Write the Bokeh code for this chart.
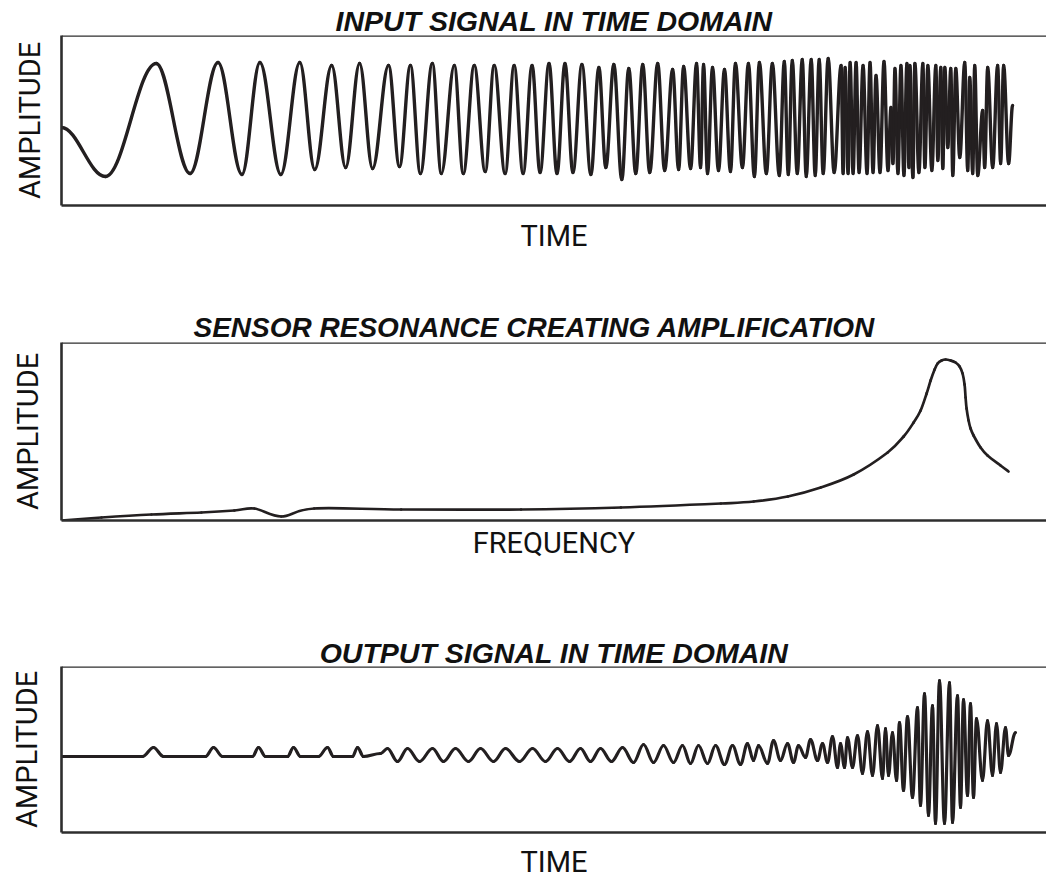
import numpy as np
from bokeh.plotting import figure
from bokeh.models import Range1d, Span, FixedTicker, ColumnDataSource
from bokeh.layouts import column
from bokeh.embed import file_html
from bokeh.resources import INLINE

# ---------------- data ----------------
# Input chirp: time of each extremum and its amplitude
in_t = [0, 44, 95, 129, 157, 181, 199, 220, 239, 254, 271, 285, 299, 312, 328, 339, 350, 360, 372, 381,
        394, 403, 414, 425, 434, 445, 454, 463, 472, 480, 489, 497, 505, 513, 522, 531, 539, 546, 554, 562,
        569, 576, 583, 590, 598, 605, 613, 619, 624, 631, 637, 641, 644, 648, 653, 659, 665, 671, 676, 683,
        689, 695, 700, 707, 713, 720, 725, 729, 733, 738, 743, 747, 752, 756, 760, 764, 769, 775, 782, 784,
        786, 789, 791, 794, 797, 800, 804, 808, 811, 814, 817, 821, 825, 829, 832, 834, 836, 839, 842, 845,
        848, 850, 851, 854, 856, 860, 864, 866, 869, 873, 877, 879, 882, 884, 886, 889, 892, 894, 897, 901,
        906, 909, 911, 914, 916, 919, 924, 926, 929, 934, 939, 942, 945, 950, 954]
in_a = [-7, -56, 57, -53, 58, -54, 58, -54, 58, -49, 55, -47, 57, -48, 55, -46, 55, -53, 57, -53,
        55, -53, 55, -51, 55, -53, 55, -53, 55, -52, 57, -53, 57, -52, 56, -54, 53, -47, 56, -59,
        52, -53, 56, -52, 57, -50, 51, -49, 54, -48, 57, -47, 56, -53, 53, -50, 51, -51, 57, -47,
        57, -56, 58, -53, 57, -55, 59, -54, 60, -53, 61, -56, 61, -55, 61, -53, 62, -52, 55, -53,
        53, -53, 58, -53, 58, -52, 55, -53, 58, -52, 45, -52, 59, -50, 13, -43, 52, -53, 55, -55,
        57, -47, 55, -57, 57, -52, 57, -47, 55, -50, 55, -40, 53, -48, 53, -27, 52, -55, 52, -37,
        58, -50, 43, -53, 55, -55, 10, -47, 53, -47, 55, -43, 55, -43, 15]

# Sensor resonance curve: frequency vs amplitude
res_f = [0, 40, 90, 140, 173, 193, 220, 253, 340, 460, 560, 660, 693, 727, 760, 793, 827, 843, 853, 860,
         866, 870, 874, 877, 881, 885, 890, 895, 899, 902, 904, 905, 906, 908, 910, 913, 920, 927, 940, 948]
res_a = [0, 3, 6, 8, 10, 12, 4, 12, 11, 11, 13, 17, 19, 24, 33, 46, 68, 84, 98, 110,
         127, 140, 151, 157, 160, 161, 160, 158, 154, 147, 136, 123, 112, 100, 92, 85, 73, 65, 55, 49]

# Output signal: time of each extremum and its amplitude
out_t = [0, 81, 92, 102, 144, 152, 161, 191, 197, 204, 226, 232, 239, 257, 266, 272, 291, 296, 302, 319,
         326, 336, 346, 358, 371, 382, 394, 407, 419, 432, 444, 458, 471, 484, 496, 508, 519, 529, 539, 550,
         561, 572, 582, 592, 602, 612, 621, 629, 637, 646, 654, 663, 671, 679, 686, 692, 697, 706, 712, 719,
         726, 732, 737, 744, 749, 756, 761, 766, 771, 776, 779, 783, 786, 791, 796, 801, 806, 811, 816, 821,
         824, 827, 831, 835, 838, 842, 846, 851, 856, 859, 863, 867, 871, 874, 878, 883, 888, 891, 896, 899,
         902, 906, 909, 912, 915, 921, 926, 931, 935, 939, 944, 947, 954]
out_a = [0, 0, 9, 0, 0, 9, 0, 0, 9, 0, 0, 9, 0, 0, 9, 0, 0, 9, 0, 3,
         8, -5, 8, -5, 8, -5, 8, -5, 8, -5, 8, -5, 8, -5, 8, -5, 8, -5, 8, -5,
         9, -6, 12, -6, 11, -6, 11, -7, 11, -7, 11, -8, 11, -8, 13, -4, 11, -7, 16, -4,
         13, -6, 11, -1, 17, -4, 13, -6, 20, -11, 13, -11, 19, -11, 21, -17, 25, -19, 31, -22,
         28, -19, 24, -24, 34, -34, 40, -41, 49, -49, 63, -59, 51, -67, 76, -67, 74, -66, 61, -51,
         57, -39, 53, -41, 38, -24, 36, -19, 33, -16, 29, 1, 24]

titles = ["INPUT SIGNAL IN TIME DOMAIN", "SENSOR RESONANCE CREATING AMPLIFICATION", "OUTPUT SIGNAL IN TIME DOMAIN"]
x_labels = ["TIME", "FREQUENCY", "TIME"]
y_label = "AMPLITUDE"

FRAME = "#2e2e2e"
INK = "#231f20"
TXT = "#111111"


def extrema_source(t, a, k=0.363):
    """Cubic segments between successive extrema (horizontal tangents)."""
    t = np.asarray(t, float)
    a = np.asarray(a, float)
    x0, x1 = t[:-1], t[1:]
    y0, y1 = a[:-1], a[1:]
    dx = x1 - x0
    return ColumnDataSource(dict(x0=x0, y0=y0, x1=x1, y1=y1,
                                 cx0=x0 + k * dx, cy0=y0, cx1=x1 - k * dx, cy1=y1))


def curve_source(t, a):
    """Catmull-Rom style cubic segments through the read points."""
    t = np.asarray(t, float)
    a = np.asarray(a, float)
    tp = np.concatenate([[t[0]], t, [t[-1]]])
    ap = np.concatenate([[a[0]], a, [a[-1]]])
    x0, x1 = tp[1:-2], tp[2:-1]
    y0, y1 = ap[1:-2], ap[2:-1]
    cx0 = x0 + (tp[2:-1] - tp[:-3]) / 6.0
    cy0 = y0 + (ap[2:-1] - ap[:-3]) / 6.0
    cx1 = x1 - (tp[3:] - tp[1:-2]) / 6.0
    cy1 = y1 - (ap[3:] - ap[1:-2]) / 6.0
    return ColumnDataSource(dict(x0=x0, y0=y0, x1=x1, y1=y1, cx0=cx0, cy0=cy0, cx1=cx1, cy1=cy1))


def make_fig(h, mb_left, mb_top, mb_bottom, xr, yr, title, xlabel, xstand, ystand,
             tsize, tstand, talign="center", toff=0, xlh=None):
    p = figure(width=1046, height=h, x_range=Range1d(*xr), y_range=Range1d(*yr),
               output_backend="svg", toolbar_location=None,
               min_border_left=mb_left, min_border_right=0,
               min_border_top=mb_top, min_border_bottom=mb_bottom, title=title)
    p.outline_line_color = None
    p.grid.visible = False
    p.background_fill_color = "white"
    p.border_fill_color = "white"
    for ax in (p.xaxis[0], p.yaxis[0]):
        ax.ticker = FixedTicker(ticks=[])
        ax.major_tick_line_color = None
        ax.minor_tick_line_color = None
        ax.major_tick_out = 0
        ax.major_tick_in = 0
        ax.major_label_standoff = 0
        ax.major_label_text_font_size = "0px"
        ax.axis_line_width = 2.6
        ax.axis_line_color = FRAME
        ax.axis_label_text_font = "Roboto"
        ax.axis_label_text_font_size = "29px"
        ax.axis_label_text_font_style = "normal"
        ax.axis_label_text_color = TXT
    p.xaxis.axis_label = xlabel
    p.xaxis.axis_label_standoff = xstand
    if xlh is not None:
        p.xaxis.axis_label_text_line_height = xlh
    p.yaxis.axis_label = y_label
    p.yaxis.axis_label_standoff = ystand
    p.title.align = talign
    p.title.offset = toff
    p.title.text_font = "Liberation Sans"
    p.title.text_font_style = "bold italic"
    p.title.text_font_size = tsize
    p.title.text_color = TXT
    p.title.standoff = tstand
    p.add_layout(Span(location=yr[1], dimension="width", line_color=FRAME, line_width=2.6))
    return p


BEZ = dict(x0="x0", y0="y0", x1="x1", y1="y1", cx0="cx0", cy0="cy0", cx1="cx1", cy1="cy1")

p1 = make_fig(265, 58, 35, 60, (0, 988), (-85, 85), titles[0], x_labels[0], 13, 15, "28.5px", -3)
p1.bezier(source=extrema_source(in_t, in_a), line_color=INK, line_width=3.4, line_cap="round", **BEZ)

p2 = make_fig(317, 60, 77, 62, (0, 986), (0, 178), titles[1], x_labels[1], 5, 17, "28px", 0,
              talign="left", toff=132)
p2.bezier(source=curve_source(res_f, res_a), line_color=INK, line_width=2.7, line_cap="round", **BEZ)

p3 = make_fig(299, 61, 84, 45, (0, 985), (-76, 90), titles[2], x_labels[2], 12, 18, "28.5px", -4,
              xlh=0.8)
p3.bezier(source=extrema_source(out_t, out_a), line_color=INK, line_width=3.2, line_cap="round", **BEZ)

layout = column(p1, p2, p3, spacing=0)
open("out.html", "w").write(file_html(layout, INLINE))
